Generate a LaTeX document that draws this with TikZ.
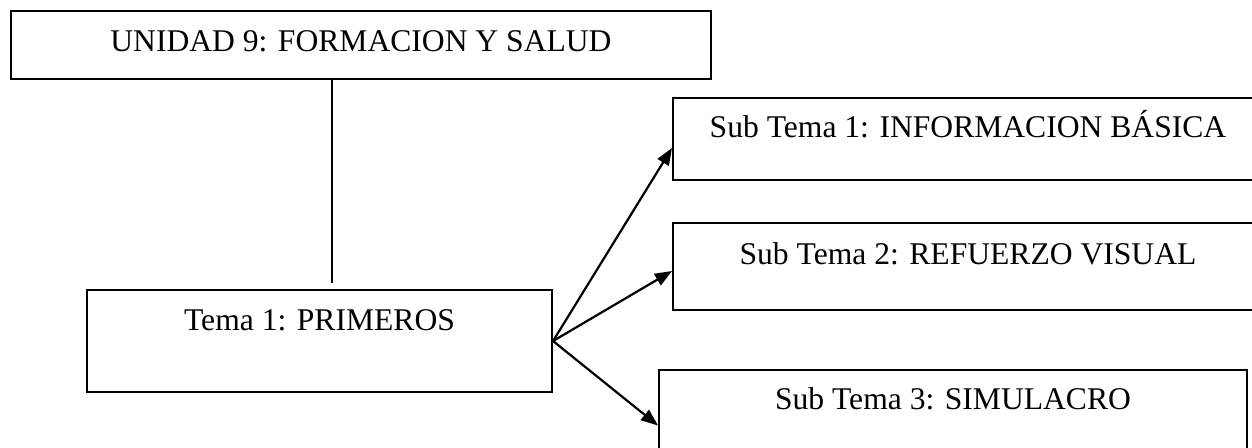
\documentclass[tikz,border=0pt]{standalone}
\usepackage{fontspec}
\setmainfont{Liberation Serif}
\usetikzlibrary{positioning, arrows.meta}

\begin{document}
\begin{tikzpicture}[x=0.5pt,y=-0.5pt,>={Triangle[length=8.5pt,width=6.5pt]},
        box/.style={draw,line width=1pt,inner sep=0pt,anchor=north west,
                    font=\fontsize{15.8}{19}\selectfont},
        every path/.style={line width=1.1pt}]
        % marco de la imagen
        \useasboundingbox (0,0) rectangle (1252,447);
        % cajas
        \node[box,minimum width=350pt,text height=20pt,text depth=14pt] (u9) at (10,10) {UNIDAD 9: FORMACION Y SALUD};
        \node[box,minimum width=232.5pt,text height=20pt,text depth=31pt] (tema) at (86,289) {Tema 1: PRIMEROS};
        \node[box,minimum width=295pt,text height=19.5pt,text depth=21.5pt] (sub1) at (672,97) {Sub Tema 1: INFORMACION BÁSICA};
        \node[box,minimum width=295pt,text height=20.5pt,text depth=23pt] (sub2) at (672,222) {Sub Tema 2: REFUERZO VISUAL};
        \node[box,minimum width=294pt,text height=19.5pt,text depth=26pt] (sub3) at (658,369) {Sub Tema 3: SIMULACRO};
        % uniones
        \coordinate (bajo) at (332,283);
        \draw (u9.south -| bajo) -- (bajo);
        \draw[->] (tema.east) -- ([yshift=-4.5pt]sub1.west);
        \draw[->] (tema.east) -- ([yshift=-2.25pt]sub2.west);
        \draw[->] (tema.east) -- ([yshift=-5pt]sub3.west);
\end{tikzpicture}
\end{document}
